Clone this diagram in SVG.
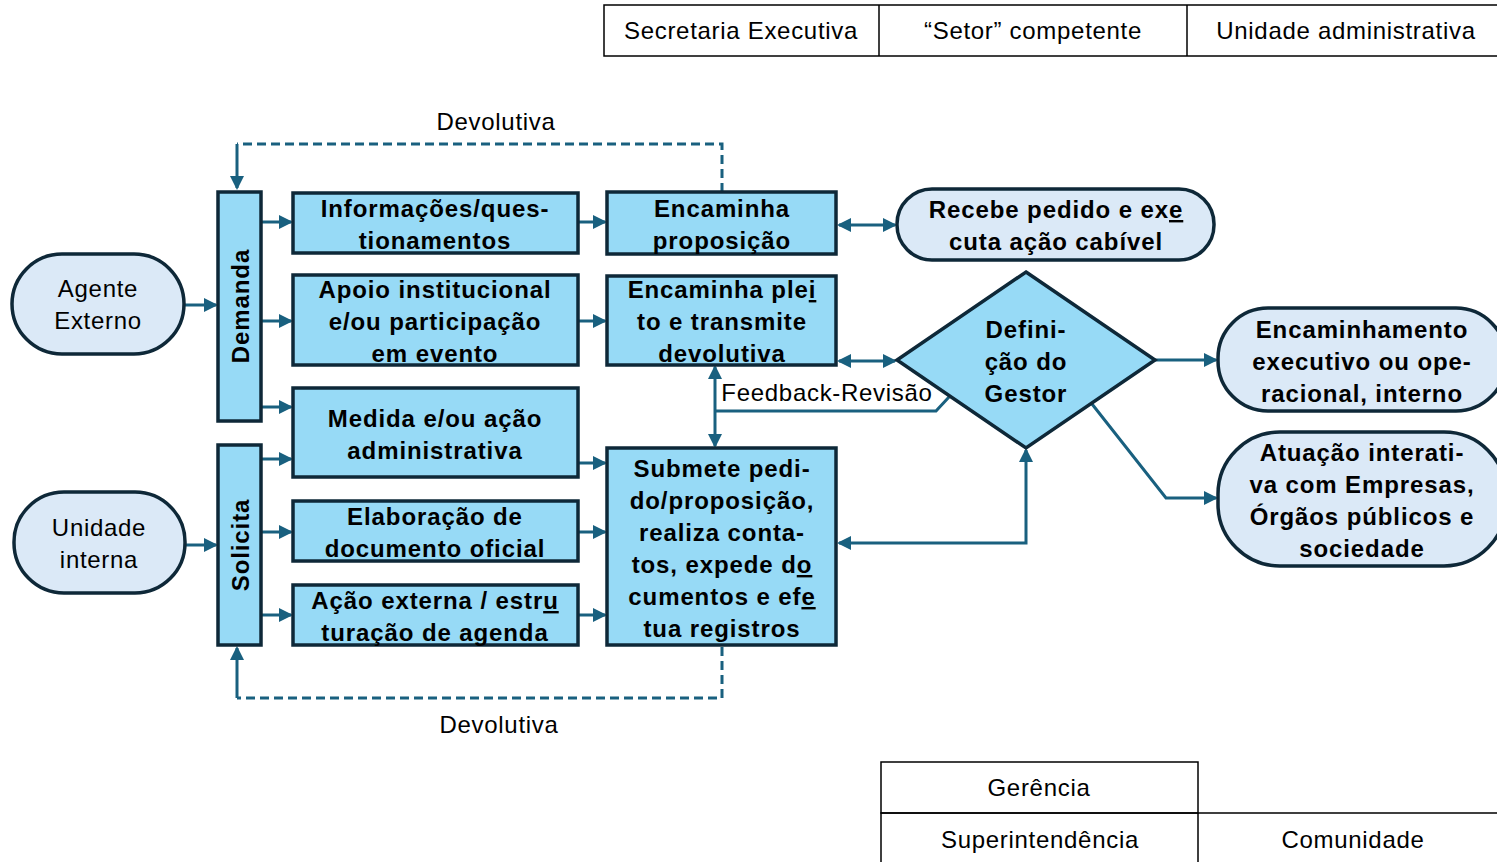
<svg xmlns="http://www.w3.org/2000/svg" width="1497" height="862" viewBox="0 0 1497 862">
<style>
.box{fill:#97daf6;stroke:#0e2838;stroke-width:3.5}
.stad{fill:#dbe9f7;stroke:#0e2838;stroke-width:3.5}
.tbl{fill:#ffffff;stroke:#000000;stroke-width:1.5}
.c{fill:none;stroke:#19607f;stroke-width:3}
.d{fill:none;stroke:#19607f;stroke-width:3;stroke-dasharray:9 5}
text{font-family:"Liberation Sans","Noto Sans",sans-serif;text-anchor:middle;fill:#000}
.b{font-weight:bold;font-size:24px;letter-spacing:0.9px}
.r{font-size:24px;letter-spacing:0.7px}
</style>
<defs>
<marker id="ah" markerUnits="userSpaceOnUse" markerWidth="14" markerHeight="14" refX="12" refY="7" orient="auto-start-reverse" viewBox="0 0 14 14">
<path d="M0,0 L14,7 L0,14 Z" fill="#19607f"/>
</marker>
</defs>

<g id="header">
<rect class="tbl" x="604" y="5" width="900" height="51"/>
<line x1="879" y1="5" x2="879" y2="56" stroke="#000" stroke-width="1.5"/>
<line x1="1187" y1="5" x2="1187" y2="56" stroke="#000" stroke-width="1.5"/>
<text class="r" x="741" y="39">Secretaria Executiva</text>
<text class="r" x="1033" y="39">“Setor” competente</text>
<text class="r" x="1346" y="39">Unidade administrativa</text>
</g>

<g id="footer">
<rect class="tbl" x="881" y="762" width="317" height="51"/>
<path d="M881,862 L881,813 L1497,813 M1198,813 L1198,862" fill="none" stroke="#000" stroke-width="1.5"/>
<text class="r" x="1039" y="796">Gerência</text>
<text class="r" x="1040" y="848">Superintendência</text>
<text class="r" x="1353" y="848">Comunidade</text>
</g>

<g id="connectors">
<line class="c" x1="184" y1="305" x2="216" y2="305" marker-end="url(#ah)"/>
<line class="c" x1="186" y1="545" x2="216" y2="545" marker-end="url(#ah)"/>
<line class="c" x1="261" y1="222" x2="291" y2="222" marker-end="url(#ah)"/>
<line class="c" x1="261" y1="321" x2="291" y2="321" marker-end="url(#ah)"/>
<line class="c" x1="261" y1="407" x2="291" y2="407" marker-end="url(#ah)"/>
<line class="c" x1="261" y1="459" x2="291" y2="459" marker-end="url(#ah)"/>
<line class="c" x1="261" y1="532" x2="291" y2="532" marker-end="url(#ah)"/>
<line class="c" x1="261" y1="615" x2="291" y2="615" marker-end="url(#ah)"/>
<line class="c" x1="578" y1="222" x2="605" y2="222" marker-end="url(#ah)"/>
<line class="c" x1="578" y1="321" x2="605" y2="321" marker-end="url(#ah)"/>
<line class="c" x1="578" y1="463" x2="605" y2="463" marker-end="url(#ah)"/>
<line class="c" x1="578" y1="532" x2="605" y2="532" marker-end="url(#ah)"/>
<line class="c" x1="578" y1="615" x2="605" y2="615" marker-end="url(#ah)"/>
<line class="c" x1="839" y1="225" x2="895" y2="225" marker-start="url(#ah)" marker-end="url(#ah)"/>
<line class="c" x1="839" y1="361" x2="895" y2="361" marker-start="url(#ah)" marker-end="url(#ah)"/>
<line class="c" x1="715" y1="367" x2="715" y2="446" marker-start="url(#ah)" marker-end="url(#ah)"/>
<polyline class="c" points="715,411 936,411 949,397"/>
<polyline class="c" points="839,543 1026,543 1026,450" marker-start="url(#ah)" marker-end="url(#ah)"/>
<line class="c" x1="1155" y1="360" x2="1216" y2="360" marker-end="url(#ah)"/>
<polyline class="c" points="1092,404 1166,498 1216,498" marker-end="url(#ah)"/>
<polyline class="d" points="722,192 722,144 237,144"/>
<line class="c" x1="237" y1="144" x2="237" y2="188" marker-end="url(#ah)"/>
<polyline class="d" points="722,647 722,698 237,698"/>
<line class="c" x1="237" y1="698" x2="237" y2="648" marker-end="url(#ah)"/>
<text class="r" x="496" y="130">Devolutiva</text>
<text class="r" x="499" y="733">Devolutiva</text>
<text class="r" x="827" y="401">Feedback-Revisão</text>
</g>

<g id="agente-externo">
<rect class="stad" x="12" y="254" width="172" height="100" rx="50" ry="50"/>
<text class="r" x="98" y="297">Agente</text>
<text class="r" x="98" y="329">Externo</text>
</g>
<g id="unidade-interna">
<rect class="stad" x="14" y="492" width="171" height="101" rx="50" ry="50"/>
<text class="r" x="99" y="536">Unidade</text>
<text class="r" x="99" y="568">interna</text>
</g>

<g id="demanda">
<rect class="box" x="218" y="192" width="43" height="229"/>
<text class="b" transform="translate(249,306) rotate(-90)">Demanda</text>
</g>
<g id="solicita">
<rect class="box" x="218" y="445" width="43" height="200"/>
<text class="b" transform="translate(249,545) rotate(-90)">Solicita</text>
</g>

<g id="informacoes">
<rect class="box" x="293" y="193" width="285" height="60"/>
<text class="b" x="435" y="217">Informações/ques-</text>
<text class="b" x="435" y="249">tionamentos</text>
</g>
<g id="apoio">
<rect class="box" x="293" y="275" width="285" height="90"/>
<text class="b" x="435" y="298">Apoio institucional</text>
<text class="b" x="435" y="330">e/ou participação</text>
<text class="b" x="435" y="362">em evento</text>
</g>
<g id="medida">
<rect class="box" x="293" y="388" width="285" height="89"/>
<text class="b" x="435" y="427">Medida e/ou ação</text>
<text class="b" x="435" y="459">administrativa</text>
</g>
<g id="elaboracao">
<rect class="box" x="293" y="501" width="285" height="60"/>
<text class="b" x="435" y="525">Elaboração de</text>
<text class="b" x="435" y="557">documento oficial</text>
</g>
<g id="acao-externa">
<rect class="box" x="293" y="585" width="285" height="60"/>
<text class="b" x="435" y="609">Ação externa / estr<tspan text-decoration="underline">u</tspan></text>
<text class="b" x="435" y="641">turação de agenda</text>
</g>

<g id="encaminha-proposicao">
<rect class="box" x="607" y="192" width="229" height="62"/>
<text class="b" x="722" y="217">Encaminha</text>
<text class="b" x="722" y="249">proposição</text>
</g>
<g id="encaminha-pleito">
<rect class="box" x="607" y="276" width="229" height="89"/>
<text class="b" x="722" y="298">Encaminha ple<tspan text-decoration="underline">i</tspan></text>
<text class="b" x="722" y="330">to e transmite</text>
<text class="b" x="722" y="362">devolutiva</text>
</g>
<g id="submete">
<rect class="box" x="607" y="448" width="229" height="197"/>
<text class="b" x="722" y="477">Submete pedi-</text>
<text class="b" x="722" y="509">do/proposição,</text>
<text class="b" x="722" y="541">realiza conta-</text>
<text class="b" x="722" y="573">tos, expede d<tspan text-decoration="underline">o</tspan></text>
<text class="b" x="722" y="605">cumentos e ef<tspan text-decoration="underline">e</tspan></text>
<text class="b" x="722" y="637">tua registros</text>
</g>

<g id="recebe-pedido">
<rect class="stad" x="897" y="189" width="317" height="71" rx="35" ry="35"/>
<text class="b" x="1056" y="218">Recebe pedido e ex<tspan text-decoration="underline">e</tspan></text>
<text class="b" x="1056" y="250">cuta ação cabível</text>
</g>
<g id="definicao-gestor">
<polygon points="1026,272 1155,360 1026,448 897,360" fill="#97daf6" stroke="#0e2838" stroke-width="3.5"/>
<text class="b" x="1026" y="338">Defini-</text>
<text class="b" x="1026" y="370">ção do</text>
<text class="b" x="1026" y="402">Gestor</text>
</g>
<g id="encaminhamento">
<rect class="stad" x="1218" y="308" width="288" height="103" rx="50" ry="50"/>
<text class="b" x="1362" y="338">Encaminhamento</text>
<text class="b" x="1362" y="370">executivo ou ope-</text>
<text class="b" x="1362" y="402">racional, interno</text>
</g>
<g id="atuacao">
<rect class="stad" x="1218" y="432" width="288" height="134" rx="62" ry="62"/>
<text class="b" x="1362" y="461">Atuação interati-</text>
<text class="b" x="1362" y="493">va com Empresas,</text>
<text class="b" x="1362" y="525">Órgãos públicos e</text>
<text class="b" x="1362" y="557">sociedade</text>
</g>
</svg>
